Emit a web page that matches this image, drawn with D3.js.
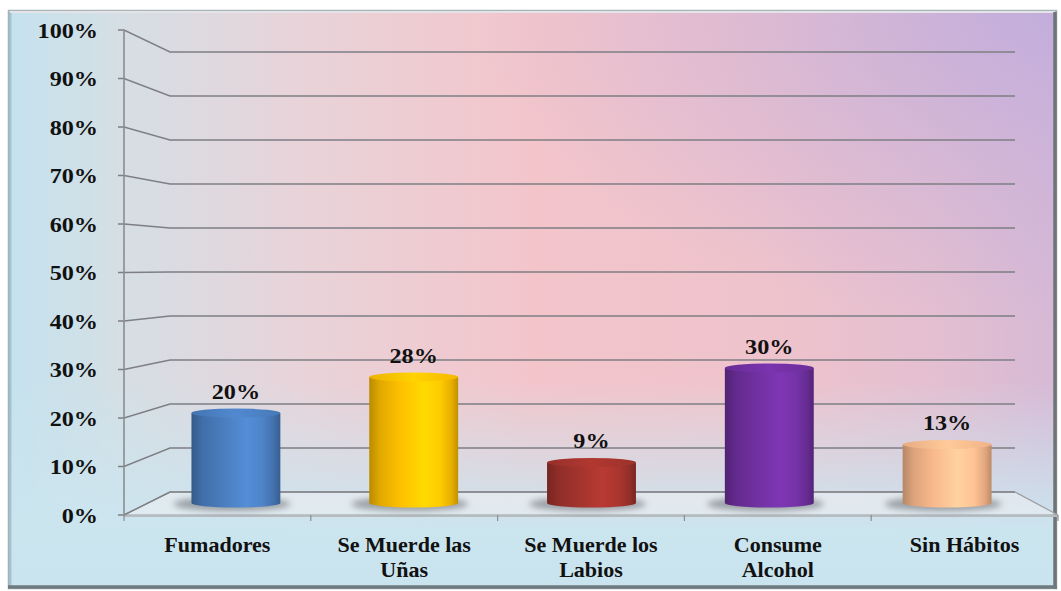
<!DOCTYPE html>
<html>
<head>
<meta charset="utf-8">
<script src="https://cdn.jsdelivr.net/npm/d3@7/dist/d3.min.js"></script>
<style>
  html, body { margin: 0; padding: 0; background: #ffffff; }
  svg { display: block; }
  text { font-family: "Liberation Serif", "Times New Roman", serif; font-weight: bold; fill: #111; }
</style>
</head>
<body>
<svg id="chart" width="1061" height="591"></svg>
<script>
// Hábitos orales: porcentaje por categoría
const categories = ["Fumadores", "Se Muerde las Uñas", "Se Muerde los Labios", "Consume Alcohol", "Sin Hábitos"];
const categoryLines = [["Fumadores"], ["Se Muerde las", "Uñas"], ["Se Muerde los", "Labios"], ["Consume", "Alcohol"], ["Sin Hábitos"]];
const values = [20, 28, 9, 30, 13];
const barColors = ["#4a7dbe", "#ffc000", "#a2332d", "#7030a0", "#f9b98c"];
const yTicks = [0, 10, 20, 30, 40, 50, 60, 70, 80, 90, 100];
const yTickLabels = yTicks.map(d => d + "%");

const svg = d3.select("#chart");
const defs = svg.append("defs");

// Scales: front plane, back wall and the depth where the cylinders stand
const yFront = d3.scaleLinear().domain([0, 100]).range([515, 30]);
const yBack = d3.scaleLinear().domain([0, 100]).range([492, 52]);
const yBar = d3.scaleLinear().domain([0, 100]).range([503, 53]);
const xFront = d3.scaleBand().domain(categories).range([124, 1058]);
const xBack = d3.scaleBand().domain(categories).range([170, 1015]);
const xBar = d3.scaleBand().domain(categories).range([147, 1036]).paddingInner(0.5).paddingOuter(0.25);

// Background gradients
const bgH = defs.append("linearGradient").attr("id", "bgH").attr("x1", 0).attr("x2", 1).attr("y1", 0).attr("y2", 0);
[[0, "#c4e2ee"], [0.1, "#d4dfe5"], [0.28, "#e8d3d9"], [0.5, "#f3c5cb"], [0.72, "#efc3cc"], [0.88, "#e4bfd0"], [1, "#d6b9d6"]]
  .forEach(([o, c]) => bgH.append("stop").attr("offset", o).attr("stop-color", c));
const bgR = defs.append("radialGradient").attr("id", "bgR").attr("cx", 1).attr("cy", 0).attr("r", 0.55);
[[0, "#c0acdc", 0.9], [0.5, "#c4aedb", 0.45], [1, "#c4aedb", 0]]
  .forEach(([o, c, a]) => bgR.append("stop").attr("offset", o).attr("stop-color", c).attr("stop-opacity", a));
const bgV = defs.append("linearGradient").attr("id", "bgV").attr("x1", 0).attr("x2", 0).attr("y1", 0).attr("y2", 1);
[[0, "#cbe5ef", 0], [0.64, "#cbe5ef", 0], [0.83, "#cbe5ef", 0.75], [0.9, "#cbe5ef", 1], [1, "#c9e4ee", 1]]
  .forEach(([o, c, a]) => bgV.append("stop").attr("offset", o).attr("stop-color", c).attr("stop-opacity", a));

const frame = { x: 8, y: 10, w: 1049, h: 579 };
["bgH", "bgR", "bgV"].forEach(id => {
  svg.append("rect").attr("x", frame.x).attr("y", frame.y).attr("width", frame.w).attr("height", frame.h).attr("fill", `url(#${id})`);
});

// Bevelled frame
svg.append("rect").attr("x", frame.x + 0.5).attr("y", frame.y + 0.5).attr("width", frame.w - 1).attr("height", frame.h - 1)
  .attr("fill", "none").attr("stroke", "#a9b4b8").attr("stroke-width", 1.5);
svg.append("line").attr("x1", frame.x + 2).attr("x2", frame.x + 2).attr("y1", frame.y + 2).attr("y2", frame.y + frame.h - 2)
  .attr("stroke", "#8fb0bc").attr("stroke-width", 3).attr("opacity", 0.6);
svg.append("line").attr("x1", frame.x + 2).attr("x2", frame.x + frame.w - 2).attr("y1", frame.y + 2).attr("y2", frame.y + 2)
  .attr("stroke", "#e4e4e8").attr("stroke-width", 2);
svg.append("line").attr("x1", frame.x + frame.w - 2).attr("x2", frame.x + frame.w - 2).attr("y1", frame.y + 2).attr("y2", frame.y + frame.h)
  .attr("stroke", "#6f7478").attr("stroke-width", 3.5);
svg.append("line").attr("x1", frame.x).attr("x2", frame.x + frame.w).attr("y1", frame.y + frame.h - 2).attr("y2", frame.y + frame.h - 2)
  .attr("stroke", "#6f7a80").attr("stroke-width", 3.5);

// Floor
const x0F = xFront.range()[0], x1F = xFront.range()[1];
const x0B = xBack.range()[0], x1B = xBack.range()[1];
svg.append("path")
  .attr("d", `M${x0F},${yFront(0)} L${x0B},${yBack(0)} L${x1B},${yBack(0)} L${x1F},${yFront(0)} Z`)
  .attr("fill", "#eef0f2").attr("fill-opacity", 0.55)
  .attr("stroke", "#9a9ea2").attr("stroke-width", 1.2);
svg.append("line").attr("x1", x0F).attr("x2", x1F).attr("y1", yFront(0) + 1).attr("y2", yFront(0) + 1)
  .attr("stroke", "#b7bcc0").attr("stroke-width", 2);

// Gridlines: perspective run from the axis to the back wall, then across it
const grid = svg.append("g").attr("fill", "none").attr("stroke", "#7d7f84").attr("stroke-width", 1.4);
yTicks.forEach(t => {
  grid.append("path").attr("d", `M${x0F - 6},${yFront(t)} L${x0F},${yFront(t)} L${x0B},${yBack(t)} L${x1B},${yBack(t)}`);
});

// Value axis
svg.append("line").attr("x1", x0F).attr("x2", x0F).attr("y1", yFront(100)).attr("y2", yFront(0))
  .attr("stroke", "#8a8d92").attr("stroke-width", 1.6);
svg.append("g").selectAll("text").data(yTicks).join("text")
  .attr("transform", d => `translate(98,${yFront(d) + 7.5}) scale(1.1,1)`)
  .attr("text-anchor", "end").attr("font-size", 22)
  .text((d, i) => yTickLabels[i]);

// Category ticks on the front edge
const bounds = categories.map(c => xFront(c)).concat([x1F]);
svg.append("g").selectAll("line").data(bounds).join("line")
  .attr("x1", d => d).attr("x2", d => d).attr("y1", yFront(0)).attr("y2", yFront(0) + 6)
  .attr("stroke", "#8a8d92").attr("stroke-width", 1.2);

// Shadow blur
const blur = defs.append("filter").attr("id", "soft").attr("x", "-30%").attr("y", "-100%").attr("width", "160%").attr("height", "300%");
blur.append("feGaussianBlur").attr("stdDeviation", 3);

// Cylinder gradients
barColors.forEach((c, i) => {
  const base = d3.color(c);
  const g = defs.append("linearGradient").attr("id", "cyl" + i).attr("x1", 0).attr("x2", 1).attr("y1", 0).attr("y2", 0);
  [[0, base.darker(0.9)], [0.12, base.darker(0.35)], [0.35, base], [0.62, base.brighter(0.35)], [0.8, base.brighter(0.15)], [0.93, base.darker(0.3)], [1, base.darker(0.8)]]
    .forEach(([o, col]) => g.append("stop").attr("offset", o).attr("stop-color", col.formatHex()));
  const t = defs.append("linearGradient").attr("id", "top" + i).attr("x1", 0).attr("x2", 1).attr("y1", 0).attr("y2", 0);
  [[0, base.darker(0.2)], [0.5, base.brighter(0.25)], [1, base.darker(0.1)]]
    .forEach(([o, col]) => t.append("stop").attr("offset", o).attr("stop-color", col.formatHex()));
});

const ry = 4.5;
const bw = xBar.bandwidth();
const bars = svg.append("g").selectAll("g").data(values).join("g");

// Shadows on the floor
bars.append("ellipse")
  .attr("cx", (d, i) => xBar(categories[i]) + bw / 2 - 4)
  .attr("cy", yBar(0) + 1)
  .attr("rx", bw / 2 + 14).attr("ry", 7)
  .attr("fill", "#5e6266").attr("opacity", 0.55).attr("filter", "url(#soft)");

// Cylinder bodies
bars.append("path")
  .attr("d", (d, i) => {
    const x = xBar(categories[i]), yb = yBar(0), yt = yBar(d);
    return `M${x},${yt} L${x},${yb} A${bw / 2},${ry} 0 0 0 ${x + bw},${yb} L${x + bw},${yt} Z`;
  })
  .attr("fill", (d, i) => `url(#cyl${i})`);

// Cylinder tops
bars.append("ellipse")
  .attr("cx", (d, i) => xBar(categories[i]) + bw / 2)
  .attr("cy", d => yBar(d))
  .attr("rx", bw / 2).attr("ry", ry)
  .attr("fill", (d, i) => `url(#top${i})`);

// Value labels
bars.append("text")
  .attr("transform", (d, i) => `translate(${xBar(categories[i]) + bw / 2},${yBar(d) - ry - 10}) scale(1.1,1)`)
  .attr("text-anchor", "middle").attr("font-size", 22)
  .text(d => d + "%");

// Category labels
const catG = svg.append("g").selectAll("text").data(categories).join("text")
  .attr("text-anchor", "middle").attr("font-size", 21)
  .attr("transform", d => `translate(${xFront(d) + xFront.bandwidth() / 2},552) scale(1.05,1)`);
catG.each(function (d, i) {
  d3.select(this).selectAll("tspan").data(categoryLines[i]).join("tspan")
    .attr("x", 0).attr("dy", (l, j) => j === 0 ? 0 : 25)
    .text(l => l);
});
</script>
</body>
</html>
